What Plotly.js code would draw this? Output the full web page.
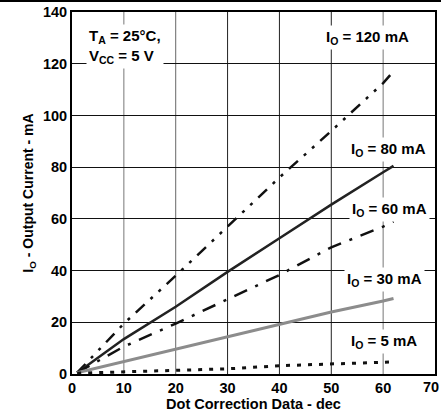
<!DOCTYPE html>
<html>
<head>
<meta charset="utf-8">
<script src="https://cdn.plot.ly/plotly-3.0.1.min.js"></script>
<style>
  html, body { margin: 0; padding: 0; background: #fff; }
  #wrap { position: relative; width: 441px; height: 419px; }
  #topline { position: absolute; left: 0; top: 0; width: 441px; height: 2px; background: #000; z-index: 5; }
  #chart { width: 441px; height: 419px; }
</style>
</head>
<body>
<div id="wrap"><div id="topline"></div><div id="chart"></div></div>
<script>
// Dot correction data (dec)
const dotCorrection = [1, 10, 20, 30, 40, 50, 60, 62];
// Output current (mA) per IO setting
const io120 = [0.5, 19.5, 38, 57, 76, 94, 112.5, 117];
const io80  = [0.5, 13.5, 26, 39.5, 52.5, 65.5, 78, 80.5];
const io60  = [0.5, 10.6, 19.5, 29, 38.3, 49, 57, 59];
const io30  = [0.5, 4.8, 9.5, 14.4, 19, 24, 28.2, 29.2];
const io5   = [0.3, 0.8, 1.5, 2, 3.2, 3.8, 4.4, 4.7];

const seriesLabels = ['I<sub>O</sub> = 120 mA', 'I<sub>O</sub> = 80 mA', 'I<sub>O</sub> = 60 mA', 'I<sub>O</sub> = 30 mA', 'I<sub>O</sub> = 5 mA'];
const labelX = [57, 61, 61.2, 60.3, 60.1];
const labelY = [130, 87, 63.5, 36.5, 12.5];
const conditionText = 'T<sub>A</sub> = 25°C,<br>V<sub>CC</sub> = 5 V';

const xTicks = [0, 10, 20, 30, 40, 50, 60, 70];
const yTicks = [0, 20, 40, 60, 80, 100, 120, 140];
const xGridLines = [10, 20, 30, 40, 50, 60];
const xGridShade = ['#777', '#666', '#222', '#222', '#222', '#777'];

const FONT = 'Liberation Sans, Arial, sans-serif';

const traces = [
  {x: dotCorrection, y: io120, mode: 'lines', line: {color: '#111', width: 2.5, dash: '12px,8px,3px,8px,3px,8px'}},
  {x: dotCorrection, y: io80,  mode: 'lines', line: {color: '#222', width: 2.5}},
  {x: dotCorrection, y: io60,  mode: 'lines', line: {color: '#111', width: 2.5, dash: '14px,9px,3px,9px'}},
  {x: dotCorrection, y: io30,  mode: 'lines', line: {color: '#8c8c8c', width: 3}},
  {x: dotCorrection, y: io5,   mode: 'lines', line: {color: '#111', width: 3, dash: '4px,7px'}}
];

const shapes = xGridLines.map((v, i) => ({
  type: 'line', xref: 'x', yref: 'paper', x0: v, x1: v, y0: 0, y1: 1,
  line: {color: xGridShade[i], width: 1}, layer: 'below'
}));

const annotations = seriesLabels.map((t, i) => ({
  x: labelX[i], y: labelY[i], xref: 'x', yref: 'y', text: '<b>' + t + '</b>',
  showarrow: false, bgcolor: '#fff', borderpad: 2,
  font: {family: FONT, size: 15, color: '#000'}
}));
annotations.push({
  x: 10.2, y: 126.5, xref: 'x', yref: 'y', text: '<b>' + conditionText + '</b>',
  showarrow: false, bgcolor: '#fff', borderpad: 2, align: 'left',
  font: {family: FONT, size: 15, color: '#000'}
});
// last x tick label sits at the page edge
annotations.push({
  x: xTicks[xTicks.length - 1], y: 0, xref: 'x', yref: 'paper', yshift: -3, xshift: 6,
  xanchor: 'right', yanchor: 'top', text: '<b>' + xTicks[xTicks.length - 1] + '</b>',
  showarrow: false, font: {family: FONT, size: 14.5, color: '#000'}
});

const layout = {
  width: 441, height: 419,
  margin: {l: 72, r: 6, t: 12, b: 45},
  paper_bgcolor: '#fff', plot_bgcolor: '#fff',
  showlegend: false,
  font: {family: FONT, color: '#000'},
  xaxis: {
    range: [0, 70], tickvals: xTicks.slice(0, -1), ticktext: xTicks.slice(0, -1).map(v => '<b>' + v + '</b>'),
    showgrid: false, zeroline: false,
    showline: true, linecolor: '#000', linewidth: 2, mirror: true, ticks: '',
    tickfont: {family: FONT, size: 14.5, color: '#000'},
    title: {text: '<b>Dot Correction Data - dec</b>', font: {family: FONT, size: 14.5, color: '#000'}, standoff: 2}
  },
  yaxis: {
    range: [0, 140], tickvals: yTicks, ticktext: yTicks.map(v => '<b>' + v + '</b>'),
    showgrid: true, gridcolor: '#111', gridwidth: 1, zeroline: false,
    showline: true, linecolor: '#000', linewidth: 2, mirror: true, ticks: '',
    tickfont: {family: FONT, size: 14.5, color: '#000'},
    title: {text: '<b>I<sub>O</sub> - Output Current - mA</b>', font: {family: FONT, size: 14, color: '#000'}, standoff: 6}
  },
  shapes: shapes,
  annotations: annotations
};

Plotly.newPlot('chart', traces, layout, {staticPlot: true, displayModeBar: false});
</script>
</body>
</html>
